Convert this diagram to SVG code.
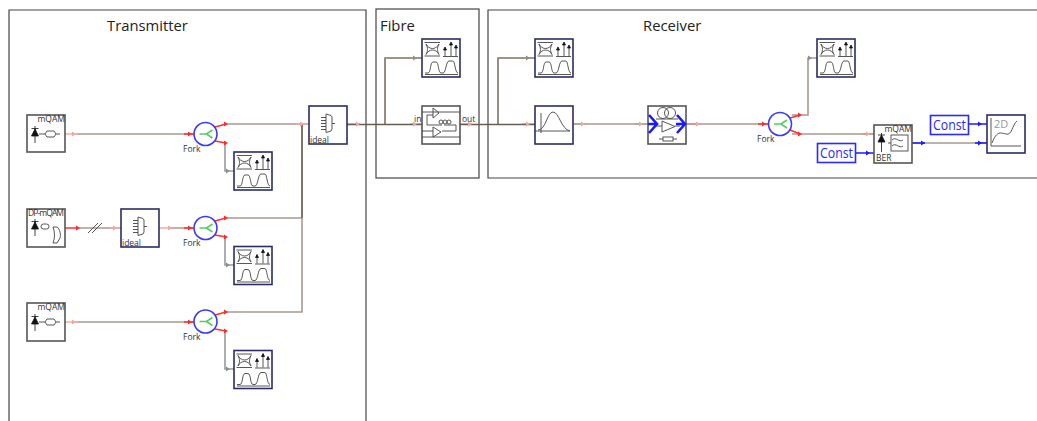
<svg xmlns="http://www.w3.org/2000/svg" xmlns:xlink="http://www.w3.org/1999/xlink" width="1037" height="421" viewBox="0 0 1037 421">
<style>
text{font-family:"Open Sans","Liberation Sans",sans-serif;fill:#333}
.frame{fill:none;stroke:#444;stroke-width:1.2}
.title{font-size:14.8px;fill:#222}
.box{fill:#fff;stroke:#555;stroke-width:1.6}
.boxb{fill:#fff;stroke:#2c2c66;stroke-width:1.6}
.lb{font-size:8.500px;fill:#333}
.ic{fill:none;stroke:#444;stroke-width:.9}
.icf{fill:#111;stroke:#111;stroke-width:.8}
.w{fill:none;stroke:#a89a90;stroke-width:1.6}
.wd{fill:none;stroke:#6b5c50;stroke-width:1.4}
.wg{fill:none;stroke:#9a9a9a;stroke-width:1.6}
.ar{fill:#f0a89c}.ar2{fill:#ff2a2a}.ag{fill:#8f8f8f}.ab{fill:#1a1aff}
.wr{stroke:#ff3030;stroke-width:1.6;fill:none}
.wb{stroke:#1a1aff;stroke-width:1.6;fill:none}
.wp{stroke:#f0b0a4;stroke-width:1.6;fill:none}
.fork{fill:#fff;stroke:#3a3aff;stroke-width:1.6}
.fk{fill:none;stroke:#55cc66;stroke-width:1.6}
.cb{fill:#fff;stroke:#2a2aff;stroke-width:1.6}
.ct{font-size:15px;fill:#2a2aff}
.chev{fill:none;stroke:#1a1aff;stroke-width:2.600}
</style>
<defs>
<g id="analyzer">
<rect class="boxb" width="38" height="38"/>
<path class="ic" d="M2.500 3.500H18M2.500 17H18M4 5c3 6 10 6 13 0M4 15.500c3-6 10-6 13 0M4 5c2 4 2 7 0 10.500M17 5c-2 4-2 7 0 10.500"/>
<path class="ic" d="M23 17V10M29 17V5M34 17V8M21 17.500H36"/>
<path class="icf" d="M23 8l-1.500 3h3zM29 3l-1.500 3h3zM34 6l-1.500 3h3z"/>
<path class="ic" d="M3 34H6C9 34 8 23 11 23H14C17 23 16 34 19 34H21C24 34 24 22 27 22H31C33 22 33 34 36 34"/>
<path class="ic" d="M3 35.500H36"/>
</g>
<g id="fork">
<circle class="fork" r="11.500"/>
<path class="fk" d="M-6 0H1L7-4M1 0L7 4"/>
</g>
<g id="diode">
<path class="icf" d="M-3.500 0H3.500L0-7zM-3.500-7.500H3.500M0-10V7"/>
</g>
<g id="muxic">
<path class="ic" d="M0 0L5 1.500L6 3V15L5 17L0 18.500ZM-5 3.500H0M-5 6.500H0M-5 9.500H0M-5 12.500H0M-5 15.500H0M6 9.500H9"/>
</g>
<path id="a" d="M-4-2.500L0 0L-4 2.500z"/>
</defs>

<g id="frames">
<path class="frame" d="M9 421V10H366V421"/>
<rect class="frame" x="376" y="9" width="103" height="169"/>
<path class="frame" d="M1037 10H488V178H1037"/>
<text class="title" x="107" y="31">Transmitter</text>
<text class="title" x="380" y="31">Fibre</text>
<text class="title" x="643" y="31">Receiver</text>
</g>

<g id="connectors">
<path class="w" d="M76 134H194M76 228H121M170 228H194M76 322H194M226 124H309M226 218H302M226 312H302V124"/>
<path class="wd" d="M302 124V218"/>
<path class="wp" d="M65 134H78M65 322H78M110 228H121M159 228H172M296 124H309M347 124H360M410 124H422M460 124H472M522 124H535M573 124H585M635 124H648M686 124H700M863 134H874"/>
<path class="wd" d="M347 124.500H422M460 124.500H535M385 124.500V58H422M498 124.500V58H535"/>
<path class="w" d="M385 58H422M498 58H535M573 124H648M686 124H768M792 134H874M792 115H808V58H817"/>
<path class="wg" d="M225 143V171H234M225 237V265H234M225 331V369H234"/>
<path class="wr" d="M65 228H76M215 127L226 124M215 141L226 143M215 221L226 218M215 235L226 237M215 315L226 312M215 329L226 331M184 134H194M184 228H194M184 322H194M758 124H768M790 118L800 115M790 130L800 134"/>
<path class="w" d="M912 143H987"/>
<path class="wb" d="M855 153H874M912 143H925M968 124H987M975 143H987"/>
<path d="M88 233L98 223M92 233L102 223" fill="none" stroke="#555" stroke-width="1"/>
<g class="ar"><use xlink:href="#a" x="76" y="134"/><use xlink:href="#a" x="117" y="228"/><use xlink:href="#a" x="172" y="228"/><use xlink:href="#a" x="76" y="322"/><use xlink:href="#a" x="304" y="124"/><use xlink:href="#a" x="360" y="124"/><use xlink:href="#a" x="417" y="124"/><use xlink:href="#a" x="472" y="124"/><use xlink:href="#a" x="530" y="124"/><use xlink:href="#a" x="585" y="124"/><use xlink:href="#a" x="643" y="124"/><use xlink:href="#a" x="700" y="124"/><use xlink:href="#a" x="870" y="134"/></g>
<g class="ar2"><use xlink:href="#a" x="80" y="228"/><use xlink:href="#a" x="192" y="134"/><use xlink:href="#a" x="192" y="228"/><use xlink:href="#a" x="192" y="322"/><use xlink:href="#a" x="228" y="124"/><use xlink:href="#a" x="228" y="143"/><use xlink:href="#a" x="228" y="218"/><use xlink:href="#a" x="228" y="237"/><use xlink:href="#a" x="228" y="312"/><use xlink:href="#a" x="228" y="331"/><use xlink:href="#a" x="766" y="124"/><use xlink:href="#a" x="802" y="115"/><use xlink:href="#a" x="802" y="134"/></g>
<g class="ag"><use xlink:href="#a" x="230" y="171"/><use xlink:href="#a" x="230" y="265"/><use xlink:href="#a" x="230" y="369"/><use xlink:href="#a" x="417" y="58"/><use xlink:href="#a" x="530" y="58"/><use xlink:href="#a" x="812" y="58"/></g>
<g class="ab"><use xlink:href="#a" x="870" y="153"/><use xlink:href="#a" x="925" y="143"/><use xlink:href="#a" x="982" y="124"/><use xlink:href="#a" x="982" y="143"/></g>
</g>

<g id="tx1"><rect class="box" x="27" y="115" width="38" height="37"/><text class="lb" x="65" y="122" text-anchor="end">mQAM</text>
<use xlink:href="#diode" x="35" y="136"/><path class="ic" d="M39 134H45M56 134H60M45 134l2-3h7l2 3l-2 3h-7z"/></g>
<g id="tx2"><rect class="box" x="27" y="209" width="38" height="38"/><text class="lb" x="46" y="216" text-anchor="middle" textLength="36">DP-mQAM</text>
<use xlink:href="#diode" x="35" y="229"/><rect class="ic" x="41" y="224" width="8" height="5" rx="2.500"/><path class="ic" d="M53 227H57C60 229 61 235 60 238L57 243H53C55 238 55 232 53 227Z"/></g>
<g id="tx3"><rect class="box" x="27" y="303" width="38" height="38"/><text class="lb" x="65" y="310" text-anchor="end">mQAM</text>
<use xlink:href="#diode" x="35" y="324"/><path class="ic" d="M39 322H45M56 322H60M45 322l2-3h7l2 3l-2 3h-7z"/></g>
<g id="mux1"><rect class="boxb" x="121" y="209" width="38" height="38"/><text class="lb" x="122" y="246">ideal</text><use xlink:href="#muxic" x="138" y="217"/></g>
<g id="fork1"><use xlink:href="#fork" x="205.500" y="134"/><text class="lb" x="183" y="152">Fork</text></g>
<g id="fork2"><use xlink:href="#fork" x="205.500" y="228"/><text class="lb" x="183" y="246">Fork</text></g>
<g id="fork3"><use xlink:href="#fork" x="205.500" y="321.500"/><text class="lb" x="183" y="340">Fork</text></g>
<g id="an1"><use xlink:href="#analyzer" x="234" y="152"/></g>
<g id="an2"><use xlink:href="#analyzer" x="234" y="246.500"/></g>
<g id="an3"><use xlink:href="#analyzer" x="234" y="350.500"/></g>
<g id="mux2"><rect class="boxb" x="309" y="106" width="38" height="38"/><text class="lb" x="310" y="143">ideal</text><use xlink:href="#muxic" x="326" y="114"/></g>
<g id="an4"><use xlink:href="#analyzer" x="422" y="39"/></g>
<g id="fibre"><rect class="box" x="422" y="106" width="38" height="38"/><text class="lb" x="414" y="122">in</text><text class="lb" x="462" y="122">out</text>
<path class="ic" d="M422 112H460M422 137H460M427 125V115H433M442 125H427M444 125H456V131H442M422 131H433M433 108v10l6-5zM433 127v10l8-5z"/>
<circle class="ic" cx="441" cy="122" r="2"/><circle class="ic" cx="445" cy="122" r="2"/><circle class="ic" cx="449" cy="122" r="2"/></g>
<g id="an5"><use xlink:href="#analyzer" x="535" y="39"/></g>
<g id="filter"><rect class="boxb" x="535" y="106" width="38" height="38"/><path class="ic" d="M541 113V133M535 131H570M538 130C546 130 547 112 553 112C559 112 561 129 570 131"/></g>
<g id="amp"><rect class="box" x="648" y="106" width="38" height="38"/>
<circle class="ic" cx="663" cy="113" r="5.500"/><circle class="ic" cx="670" cy="113" r="5.500"/><path class="ic" d="M656 119H678M662 121V132L675 126.500L662 121ZM656 126H662M675 126H680M659 139H663M673 139H677"/><rect class="ic" x="663" y="137" width="10" height="4"/>
<path class="chev" d="M649 115L657 124L649 133M648 124H657M677 115L685 124L677 133M676 124H685"/></g>
<g id="fork4"><use xlink:href="#fork" x="780" y="124"/><text class="lb" x="757" y="142">Fork</text></g>
<g id="an6"><use xlink:href="#analyzer" x="817" y="39"/></g>
<g id="const1"><rect class="cb" x="817.500" y="143.500" width="38" height="19"/><text class="ct" x="820" y="158" textLength="33" lengthAdjust="spacingAndGlyphs">Const</text></g>
<g id="ber"><rect class="box" x="874" y="125" width="38" height="38"/><text class="lb" x="912" y="132" text-anchor="end">mQAM</text><text class="lb" x="876" y="161">BER</text>
<path class="icf" d="M878 142H885L881.500 135zM878 135H885M881.500 133V152"/><rect class="ic" x="891" y="135" width="17" height="16"/><path class="ic" d="M892 140C896 136 899 143 903 140M892 146C896 142 899 149 903 146M888 143H891"/></g>
<g id="const2"><rect class="cb" x="930.500" y="115.500" width="38" height="19"/><text class="ct" x="933" y="130" textLength="33" lengthAdjust="spacingAndGlyphs">Const</text></g>
<g id="plot"><rect class="boxb" x="987" y="115" width="38" height="38"/><text x="994" y="128" font-size="11" style="fill:#999">2D</text><path class="ic" d="M991 118V146H1021M992 143C997 130 1001 133 1006 134C1012 136 1012 125 1017 121"/></g>
</svg>
